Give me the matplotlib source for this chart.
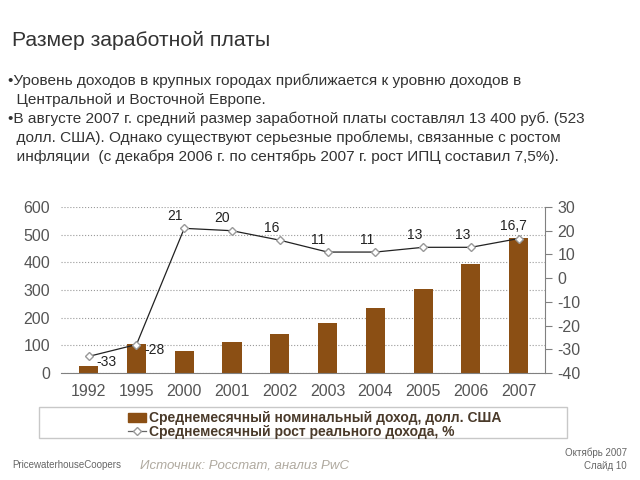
import numpy as np
import matplotlib.pyplot as plt
from matplotlib.patches import Rectangle, Patch
from matplotlib.lines import Line2D

plt.rcParams['font.family'] = ['Liberation Sans', 'DejaVu Sans']
plt.rcParams['axes.unicode_minus'] = False

# Данные
years = ['1992', '1995', '2000', '2001', '2002', '2003', '2004', '2005', '2006', '2007']
income_usd = [25, 105, 78, 111, 140, 180, 234, 303, 394, 489]
real_growth = [-33, -28, 21, 20, 16, 11, 11, 13, 13, 16.7]
growth_labels = ['-33', '-28', '21', '20', '16', '11', '11', '13', '13', '16,7']

bar_color = '#8B4F14'
text_col = '#333333'
tick_col = '#555555'

fig = plt.figure(figsize=(6.4, 4.8), dpi=100)
fig.patch.set_facecolor('white')

# Заголовок и текст слайда
fig.text(12 / 640, 1 - 40 / 480, 'Размер заработной платы', fontsize=15.3,
         color=text_col, va='center', ha='left')
lines = [
    '•Уровень доходов в крупных городах приближается к уровню доходов в',
    '  Центральной и Восточной Европе.',
    '•В августе 2007 г. средний размер заработной платы составлял 13 400 руб. (523',
    '  долл. США). Однако существуют серьезные проблемы, связанные с ростом',
    '  инфляции  (с декабря 2006 г. по сентябрь 2007 г. рост ИПЦ составил 7,5%).',
]
for i, s in enumerate(lines):
    fig.text(8 / 640, 1 - (81 + 19 * i) / 480, s, fontsize=11.05,
             color=text_col, va='center', ha='left')

# Рамка легенды
fig.patches.append(Rectangle((39 / 640, 1 - 438 / 480), 528 / 640, 31 / 480,
                             transform=fig.transFigure, fill=False,
                             edgecolor='#c8c8c8', linewidth=1))

ax = fig.add_axes([61 / 640, 1 - 373 / 480, 484 / 640, 166 / 480])
x = np.arange(len(years))
ax.bar(x, income_usd, width=0.4, color=bar_color, zorder=2)
ax.set_ylim(0, 600)
ax.set_xlim(-0.58, 9.55)
ax.set_yticks(range(0, 601, 100))
ax.yaxis.grid(True, linestyle=':', color='#9a9a9a', linewidth=0.8, zorder=0)
ax.set_axisbelow(True)
for sp in ['top', 'right', 'left']:
    ax.spines[sp].set_visible(False)
ax.spines['bottom'].set_color('#808080')
ax.set_xticks(x)
ax.set_xticklabels(years)
ax.tick_params(axis='x', length=0, labelsize=11.5, labelcolor=tick_col, pad=8)
ax.tick_params(axis='y', length=0, labelsize=11.5, labelcolor=tick_col, pad=8)

ax2 = ax.twinx()
ax2.plot(x, real_growth, color='#222222', linewidth=0.9, marker='D',
         markersize=4.5, markerfacecolor='white', markeredgecolor='#999999',
         zorder=3)
ax2.set_ylim(-40, 30)
ax2.set_yticks(range(-40, 31, 10))
for sp in ['top', 'left', 'bottom']:
    ax2.spines[sp].set_visible(False)
ax2.spines['right'].set_color('#808080')
ax2.tick_params(axis='y', length=5, color='#808080', labelsize=11.5,
                labelcolor=tick_col, pad=4)

offsets = [(13, -4), (13, -4), (-7, 4), (-7, 4), (-6, 4), (-7, 4), (-6, 4),
           (-6, 4), (-6, 4), (-4, 4)]
for xi, yi, lab, (dx, dy) in zip(x, real_growth, growth_labels, offsets):
    ax2.annotate(lab, (xi, yi), xytext=(dx, dy), textcoords='offset points',
                 ha='center', va='bottom' if dy > 0 else 'center',
                 fontsize=10, color='#222222')

handles = [Patch(facecolor=bar_color, edgecolor=bar_color),
           Line2D([0], [0], color='#666666', linewidth=0.9, marker='D',
                  markersize=4, markerfacecolor='white',
                  markeredgecolor='#999999')]
labels = ['Среднемесячный номинальный доход, долл. США',
          'Среднемесячный рост реального дохода, %']
fig.legend(handles, labels, loc='upper left',
           bbox_to_anchor=(120 / 640, 1 - 403 / 480), frameon=False,
           prop={'size': 10, 'weight': 'bold'}, labelcolor='#4a3a2a',
           handlelength=1.3, handletextpad=0.2, labelspacing=0.0,
           borderpad=0.1)

# Нижний колонтитул
fig.text(12 / 640, 1 - 465 / 480, 'PricewaterhouseCoopers', fontsize=7,
         color='#666666', va='center')
fig.text(140 / 640, 1 - 465 / 480, 'Источник: Росстат, анализ PwC',
         fontsize=9.5, style='italic', color='#b0aaa0', va='center')
fig.text(627 / 640, 1 - 453 / 480, 'Октябрь 2007', fontsize=7,
         color='#666666', va='center', ha='right')
fig.text(627 / 640, 1 - 466 / 480, 'Слайд 10', fontsize=7,
         color='#666666', va='center', ha='right')

fig.savefig('out.png', dpi=100)
